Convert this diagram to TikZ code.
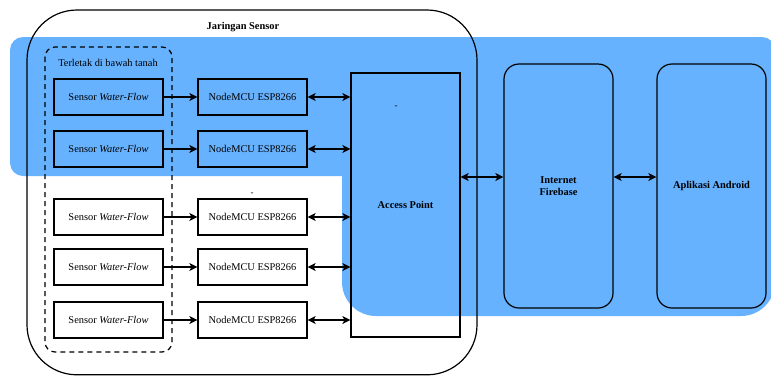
\documentclass[tikz,border=0pt]{standalone}
\usepackage{fontspec}
\setmainfont{Liberation Serif}
\usetikzlibrary{arrows.meta}
\definecolor{bgblue}{RGB}{102,178,255}
\tikzset{
  box/.style={draw, line width=1.2pt, minimum width=109pt, minimum height=36pt, inner sep=0pt, font=\fontsize{10.4}{12}\selectfont},
  bigbox/.style={draw, line width=1.2pt, minimum width=109pt, inner sep=0pt, align=center, font=\fontsize{10.4}{12.5}\selectfont\bfseries},
  conn/.style={line width=1.2pt, -{Stealth[length=8pt,width=8pt,inset=2pt]}},
  dconn/.style={line width=1.2pt, {Stealth[length=8pt,width=8pt,inset=2pt]}-{Stealth[length=8pt,width=8pt,inset=2pt]}},
  lbl/.style={font=\fontsize{10.4}{12}\selectfont, inner sep=0pt},
  tick/.style={font=\fontsize{9}{9}\selectfont, inner sep=0pt}
}
\begin{document}
\begin{tikzpicture}[x=1pt,y=-1pt]
\useasboundingbox (0,0) rectangle (771,376);
\begin{scope}
\clip (0,0) rectangle (771,376);
% blue background
\fill[bgblue, rounded corners=13pt] (10,37) rectangle (775,176);
\fill[bgblue, rounded corners=34pt] (342,60) rectangle (775,316);
\fill[bgblue] (342,37) rectangle (700,176);
% outer group
\draw[line width=1.2pt, rounded corners=50pt] (27,10) rectangle (477,374.8);
\end{scope}
\node[font=\fontsize{10.4}{12}\selectfont\bfseries, inner sep=0pt] (title) at (243,27) {Jaringan Sensor};
% dashed group
\draw[line width=1.2pt, dashed, dash pattern=on 5pt off 4pt, rounded corners=10pt] (45,47) rectangle (172,352);
\node[lbl] (under) at (108,63) {Terletak di bawah tanah};
% boxes
\foreach \i/\y in {1/97,2/149,3/217,4/267,5/320}{
  \node[box] (s\i) at (108.5,\y) {Sensor \textit{Water-Flow}};
  \node[box] (n\i) at (252.5,\y) {NodeMCU ESP8266};
}
\node[bigbox, minimum height=264pt] (ap) at (405.5,205) {Access Point};
\node[bigbox, minimum height=244pt, rounded corners=15pt] (fb) at (558.5,186) {Internet\\Firebase};
\node[bigbox, minimum height=244pt, rounded corners=15pt] (aa) at (711.5,186) {Aplikasi Android};
\node[tick] (d1) at (396,107) {-};
\node[tick] (d2) at (252,194) {-};
% connectors
\foreach \i in {1,...,5}{
  \draw[conn] (s\i.east) -- (n\i.west);
  \draw[dconn] (n\i.east) -- (ap.west |- n\i.east);
}
\draw[dconn] (ap.east |- 0,177) -- (fb.west |- 0,177);
\draw[dconn] (fb.east |- 0,177) -- (aa.west |- 0,177);
\end{tikzpicture}
\end{document}
